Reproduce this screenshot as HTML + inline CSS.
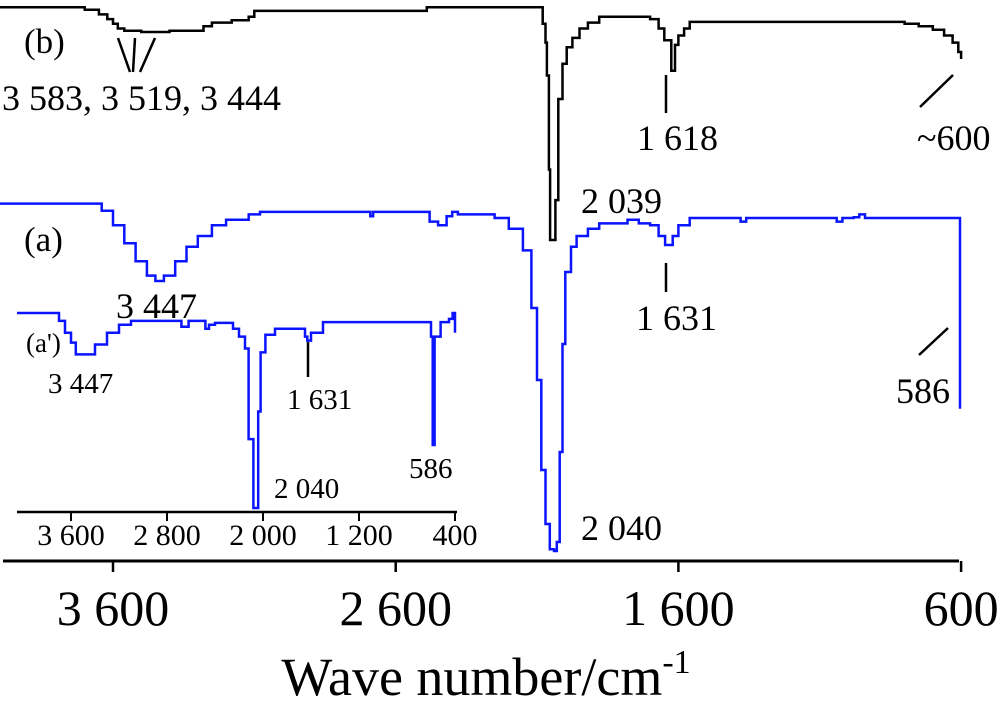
<!DOCTYPE html>
<html><head><meta charset="utf-8"><style>
body{margin:0;background:#fff;}
svg{display:block;}
text{font-family:"Liberation Serif",serif;fill:#000;}
</style></head><body>
<svg id="c" width="1000" height="710" viewBox="0 0 1000 710" xmlns="http://www.w3.org/2000/svg">
<g id="g"></g>
<text x="24" y="53" font-size="35">(b)</text>
<text x="2" y="110" font-size="36">3 583, 3 519, 3 444</text>
<text x="637" y="150" font-size="36">1 618</text>
<text x="917" y="150" font-size="36">~600</text>
<text x="581" y="213" font-size="36">2 039</text>
<text x="24" y="251" font-size="35">(a)</text>
<text x="116" y="318" font-size="36">3 447</text>
<text x="636" y="330" font-size="36">1 631</text>
<text x="896" y="403" font-size="36">586</text>
<text x="581" y="540" font-size="36">2 040</text>
<text x="26" y="352" font-size="27">(a')</text>
<text x="48" y="393" font-size="29">3 447</text>
<text x="287" y="409" font-size="29">1 631</text>
<text x="409" y="478" font-size="29">586</text>
<text x="274" y="498" font-size="29">2 040</text>
<text x="486" y="695" font-size="54" text-anchor="middle">Wave number/cm<tspan dy="-22" font-size="34">-1</tspan></text>
</svg>
<script>
const mainTicks=[3600,2600,1600,600];
const mainTickLabels=["3 600","2 600","1 600","600"];
const insetTicks=[3600,2800,2000,1200,400];
const insetTickLabels=["3 600","2 800","2 000","1 200","400"];
const specAw=[4000,3680,3640,3600,3560,3520,3480,3450,3420,3380,3340,3300,3250,3200,3120,3080,2700,2690,2680,2500,2480,2450,2420,2400,2380,2300,2250,2200,2150,2120,2100,2085,2070,2055,2040,2030,2020,2010,2000,1980,1960,1920,1880,1820,1780,1740,1700,1670,1647,1620,1600,1560,1400,1380,1360,1050,1040,1020,980,960,940,605,604];
const specAT=[99,99,97,93,88,83,79,77.5,79,83,87,90,93,94.5,96,96.7,96.7,95.5,96.7,96.7,94,93,95.5,96.7,96,96,95,92,86,70,50,25,10,3,2.5,5,30,60,80,87,90,92,93.5,93.5,94.5,93.5,93,90,87.5,90,93,95,95,94,95,95,94,95,95.2,96,95,95,42];
const specBw=[4000,3750,3700,3650,3620,3600,3583,3560,3519,3500,3444,3400,3280,3250,3180,3120,3100,2500,2490,2100,2080,2070,2065,2058,2054,2035,2025,2010,1995,1975,1950,1920,1880,1760,1700,1670,1650,1625,1612,1600,1580,1560,840,800,750,700,660,630,610,600];
const specBT=[99,99,98,96,94,92,90,89,89,88.5,88.5,89,91,92.5,93.5,95,97.5,97.5,99,99,92,84,70,30,0,17,60,75,82,86,90,92.5,95,95,94,90,85,72,83,87,90,92.8,92.8,92,91,89.5,87,84,80,77];
const insetw=[4050,3750,3700,3650,3600,3560,3450,3400,3300,3200,3100,2700,2680,2620,2500,2480,2450,2400,2300,2250,2200,2150,2120,2080,2050,2040,2020,1980,1900,1700,1650,1631,1600,1500,1000,620,600,586,570,520,450,420,400];
const insetT=[100,100,96,90,85,79,79,84,90,94,96,96,93,96,96,92,94,95,95,92,88,82,36,1,1,50,80,89,92,92,88,86,90,95.4,95.4,95.4,88,33,88,95.4,97,100,90];
const NS="http://www.w3.org/2000/svg";
const g=document.getElementById('g');
function mx(w){return 113+(3600-w)*0.2827;}
function ix(w){return 71+(3600-w)*0.12;}
function yA(t){return 560-t*3.6;}
function yB(t){return 240-t*2.35;}
function yI(t){return 510-t*1.97;}
function mk(tag,attrs){const e=document.createElementNS(NS,tag);for(const k in attrs)e.setAttribute(k,attrs[k]);g.appendChild(e);return e;}
function stepPath(ws,ts,fx,fy){let d='M'+fx(ws[0]).toFixed(1)+' '+fy(ts[0]).toFixed(1);for(let i=1;i<ws.length;i++){const x=fx(ws[i]).toFixed(1);d+=' H'+x+' V'+fy(ts[i]).toFixed(1);}return d;}
let p=mk('path',{d:stepPath(specBw,specBT,mx,yB),fill:'none',stroke:'#000','stroke-width':2.5});


p=mk('path',{d:stepPath(specAw,specAT,mx,yA),fill:'none',stroke:'#0a14ff','stroke-width':2.5});


p=mk('path',{d:stepPath(insetw,insetT,ix,yI),fill:'none',stroke:'#0a14ff','stroke-width':2.5});


const marks=[[118,38,130,72],[135,38,133,72],[155,38,140,72],[666,75,666,113],[953,75,920,107],[666,263,666,292],[948,328,919,355],[308,342,308,377]];
marks.forEach(m=>{const l=mk('line',{x1:m[0],y1:m[1],x2:m[2],y2:m[3],stroke:'#000','stroke-width':2.5});

});
let a=mk('line',{x1:3,y1:561,x2:959,y2:561,stroke:'#000','stroke-width':3});


mainTicks.forEach((w,i)=>{const x=mx(w);
const t=mk('line',{x1:x,y1:561,x2:x,y2:572,stroke:'#000','stroke-width':2.5});


const tx=mk('text',{x:x,y:625,'font-size':50,'text-anchor':'middle'});tx.textContent=mainTickLabels[i];

});
a=mk('line',{x1:17,y1:512,x2:457,y2:512,stroke:'#000','stroke-width':2.5});


insetTicks.forEach((w,i)=>{const x=ix(w);
const t=mk('line',{x1:x,y1:512,x2:x,y2:521,stroke:'#000','stroke-width':2});


const tx=mk('text',{x:x,y:545,'font-size':30,'text-anchor':'middle'});tx.textContent=insetTickLabels[i];

});
</script>
</body></html>
